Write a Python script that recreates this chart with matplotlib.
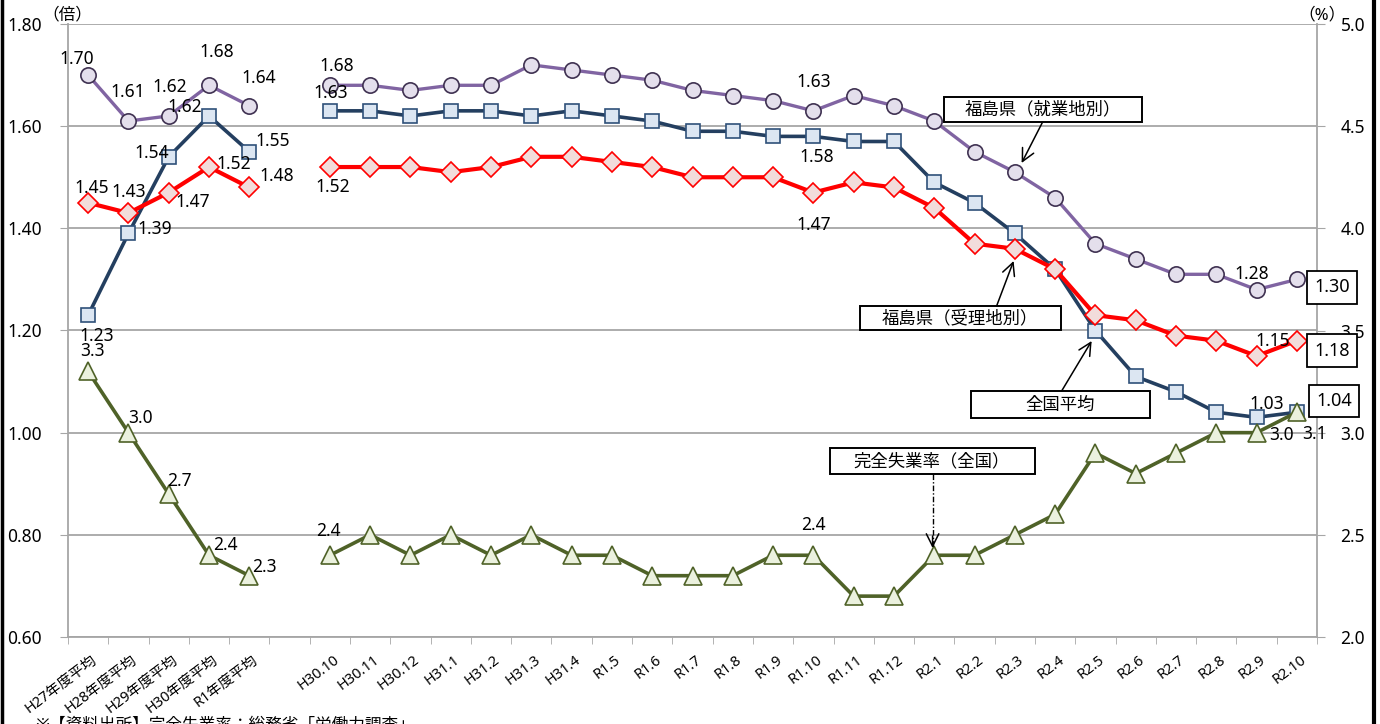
import numpy as np
import matplotlib.pyplot as plt
from matplotlib.patches import Rectangle
from matplotlib.lines import Line2D
import matplotlib.transforms as mtransforms

plt.rcParams['font.family'] = ['Noto Sans', 'Noto Sans CJK JP', 'DejaVu Sans']

nan = np.nan
categories = ['H27年度平均', 'H28年度平均', 'H29年度平均', 'H30年度平均', 'R1年度平均', '',
              'H30.10', 'H30.11', 'H30.12', 'H31.1', 'H31.2', 'H31.3', 'H31.4',
              'R1.5', 'R1.6', 'R1.7', 'R1.8', 'R1.9', 'R1.10', 'R1.11', 'R1.12',
              'R2.1', 'R2.2', 'R2.3', 'R2.4', 'R2.5', 'R2.6', 'R2.7', 'R2.8', 'R2.9', 'R2.10']

# 有効求人倍率（倍）
fukushima_work = [1.70, 1.61, 1.62, 1.68, 1.64, nan,
                  1.68, 1.68, 1.67, 1.68, 1.68, 1.72, 1.71, 1.70, 1.69, 1.67, 1.66, 1.65,
                  1.63, 1.66, 1.64, 1.61, 1.55, 1.51, 1.46, 1.37, 1.34, 1.31, 1.31, 1.28, 1.30]
national = [1.23, 1.39, 1.54, 1.62, 1.55, nan,
            1.63, 1.63, 1.62, 1.63, 1.63, 1.62, 1.63, 1.62, 1.61, 1.59, 1.59, 1.58,
            1.58, 1.57, 1.57, 1.49, 1.45, 1.39, 1.32, 1.20, 1.11, 1.08, 1.04, 1.03, 1.04]
fukushima_recv = [1.45, 1.43, 1.47, 1.52, 1.48, nan,
                  1.52, 1.52, 1.52, 1.51, 1.52, 1.54, 1.54, 1.53, 1.52, 1.50, 1.50, 1.50,
                  1.47, 1.49, 1.48, 1.44, 1.37, 1.36, 1.32, 1.23, 1.22, 1.19, 1.18, 1.15, 1.18]
# 完全失業率（%）
unemployment = [3.3, 3.0, 2.7, 2.4, 2.3, nan,
                2.4, 2.5, 2.4, 2.5, 2.4, 2.5, 2.4, 2.4, 2.3, 2.3, 2.3, 2.4,
                2.4, 2.2, 2.2, 2.4, 2.4, 2.5, 2.6, 2.9, 2.8, 2.9, 3.0, 3.0, 3.1]

x = np.arange(len(categories))

# label placement: (index, dx, dy) in pixels, dy positive = down
work_labels = [(0, -11, -16), (1, -1, -29), (2, 1, -29), (3, 8, -33), (4, 9, -28),
               (6, 7, -19), (18, 0, -29), (29, -5, -16)]
nat_labels = [(0, 9, 21), (1, 26, -4), (2, -17, -4), (3, -24, -9), (4, 23, -11),
              (6, 1, -18), (18, 3, 21), (29, 10, -13)]
recv_labels = [(0, 4, -15), (1, 0, -21), (2, 24, 9), (3, 25, -3), (4, 27, -11),
               (6, 3, 20), (18, 0, 32), (29, 16, -15)]
unemp_labels = [(0, 4, -20), (1, 12, -15), (2, 11, -13), (3, 16, -10), (4, 15, -9),
                (6, -1, -24), (18, 0, -30), (29, 25, 2), (30, 18, 22)]

fig = plt.figure(figsize=(13.8, 7.24), dpi=100)
ax = fig.add_axes([68 / 1380, 87 / 724, 1249 / 1380, 613 / 724])
ax2 = ax.twinx()

gray = '#A6A6A6'

ax.plot(x, fukushima_work, color='#8064A2', lw=2.4, marker='o', ms=11,
        mfc='#E4DFEC', mec='#3F3151', mew=1.2, zorder=3)
ax.plot(x, national, color='#243F60', lw=2.6, marker='s', ms=10,
        mfc='#DCE6F2', mec='#2F5079', mew=1.2, zorder=4)
ax.plot(x, fukushima_recv, color='#FF0000', lw=3.0, marker='D', ms=10,
        mfc='#F2DCDB', mec='#FF0000', mew=1.2, zorder=5)
ax2.plot(x, unemployment, color='#4F6228', lw=2.6, marker='^', ms=13,
         mfc='#EBF1DE', mec='#4F6228', mew=1.2, zorder=3)

ax.set_xlim(-0.5, len(categories) - 0.5)
ax.set_ylim(0.6, 1.8)
ax2.set_ylim(2.0, 5.0)

ax.set_yticks(np.arange(0.6, 1.81, 0.2))
ax.set_yticklabels([f'{v:.2f}' for v in np.arange(0.6, 1.81, 0.2)], fontsize=12.5)
ax2.set_yticks(np.arange(2.0, 5.01, 0.5))
ax2.set_yticklabels([f'{v:.1f}' for v in np.arange(2.0, 5.01, 0.5)], fontsize=12.5)
ax.yaxis.grid(True, color=gray, lw=1.3)
ax.set_axisbelow(True)
ax.tick_params(axis='y', length=6, color=gray, pad=13)
ax2.tick_params(axis='y', length=6, color=gray, pad=11)

ax.set_xticks(x)
ax.set_xticklabels(categories, fontsize=10.5)
ax.set_xticks(np.arange(-0.5, len(categories)), minor=True)
ax.tick_params(axis='x', which='major', length=0, pad=11)
ax.tick_params(axis='x', which='minor', length=5, color=gray)
shift = mtransforms.ScaledTranslation(3 / 100, 0, fig.dpi_scale_trans)
for lab in ax.get_xticklabels():
    lab.set_rotation(37)
    lab.set_ha('right')
    lab.set_va('top')
    lab.set_rotation_mode('anchor')
    lab.set_transform(lab.get_transform() + shift)

for sp in ['top', 'right']:
    ax.spines[sp].set_visible(False)
for sp in ['left', 'bottom']:
    ax.spines[sp].set_color(gray)
    ax.spines[sp].set_linewidth(1.3)
for sp in ['top', 'left', 'bottom']:
    ax2.spines[sp].set_visible(False)
ax2.spines['right'].set_color(gray)
ax2.spines['right'].set_linewidth(1.3)


def put_labels(target, values, specs, fmt):
    for i, dx, dy in specs:
        ax2.annotate(fmt.format(values[i]), (x[i], values[i]), xycoords=target.transData,
                     xytext=(dx, -dy), textcoords='offset pixels',
                     ha='center', va='center', fontsize=12.5, zorder=6,
                     annotation_clip=False)


put_labels(ax, fukushima_work, work_labels, '{:.2f}')
put_labels(ax, national, nat_labels, '{:.2f}')
put_labels(ax, fukushima_recv, recv_labels, '{:.2f}')
put_labels(ax2, unemployment, unemp_labels, '{:.1f}')

# boxed latest values
last = len(categories) - 1
for vals, dx, dy in [(fukushima_work, 35, 8), (fukushima_recv, 35, 10), (national, 37, -11)]:
    ax2.annotate(f'{vals[last]:.2f}', (x[last], vals[last]), xycoords=ax.transData,
                 xytext=(dx, -dy), textcoords='offset pixels', ha='center', va='center',
                 fontsize=13, zorder=7, annotation_clip=False,
                 bbox=dict(boxstyle='square,pad=0.4', fc='white', ec='black', lw=1.3))


# callouts (pixel layout converted to axis units)
def fx(px):
    return (px - 89) / 40.27


def fy(py):
    return 2.0 + (637 - py) / 204.33


callouts = [
    ('福島県（就業地別）', (944, 97, 1142, 122), (1043, 122), (1022, 163), False),
    ('福島県（受理地別）', (860, 306, 1061, 330), (997, 306), (1014, 261), False),
    ('全国平均', (971, 391, 1150, 418), (1062, 391), (1092, 341), False),
    ('完全失業率（全国）', (830, 448, 1035, 474), (933, 474), (933, 548), True),
]
for text, (x0, y0, x1, y1), start, tip, dashed in callouts:
    ax2.add_patch(Rectangle((fx(x0), fy(y1)), fx(x1) - fx(x0), fy(y0) - fy(y1),
                            fc='white', ec='black', lw=1.4, zorder=8, clip_on=False))
    ax2.text(fx((x0 + x1) / 2), fy((y0 + y1) / 2), text, ha='center', va='center',
             fontsize=12.5, zorder=9)
    if dashed:
        ax2.plot([fx(start[0]), fx(tip[0])], [fy(start[1]), fy(tip[1])],
                 color='black', lw=1.0, ls=(0, (4, 1.5, 1, 1.5)), zorder=8)
        ax2.annotate('', xy=(fx(tip[0]), fy(tip[1])),
                     xytext=(fx(tip[0]), fy(tip[1] - 12)),
                     arrowprops=dict(arrowstyle='->,head_length=0.9,head_width=0.45',
                                     color='black', lw=1.1, shrinkA=0, shrinkB=0),
                     zorder=8)
    else:
        ax2.annotate('', xy=(fx(tip[0]), fy(tip[1])), xytext=(fx(start[0]), fy(start[1])),
                     arrowprops=dict(arrowstyle='->,head_length=0.9,head_width=0.45',
                                     color='black', lw=1.1, shrinkA=0, shrinkB=0),
                     zorder=8)

fig.text(67 / 1380, 1 - 15 / 724, '（倍）', ha='center', va='center', fontsize=12)
fig.text(1322 / 1380, 1 - 15 / 724, '（%）', ha='center', va='center', fontsize=12)
fig.text(35 / 1380, 1 - 717 / 724, '※【資料出所】完全失業率：総務省「労働力調査」',
         ha='left', va='top', fontsize=12)

fig.add_artist(Line2D([1.5 / 1380, 1.5 / 1380], [0, 1], color='black', lw=2.5,
                      transform=fig.transFigure))
fig.add_artist(Line2D([1374 / 1380, 1374 / 1380], [0, 1], color='black', lw=3,
                      transform=fig.transFigure))

fig.savefig('out.png', dpi=100)
